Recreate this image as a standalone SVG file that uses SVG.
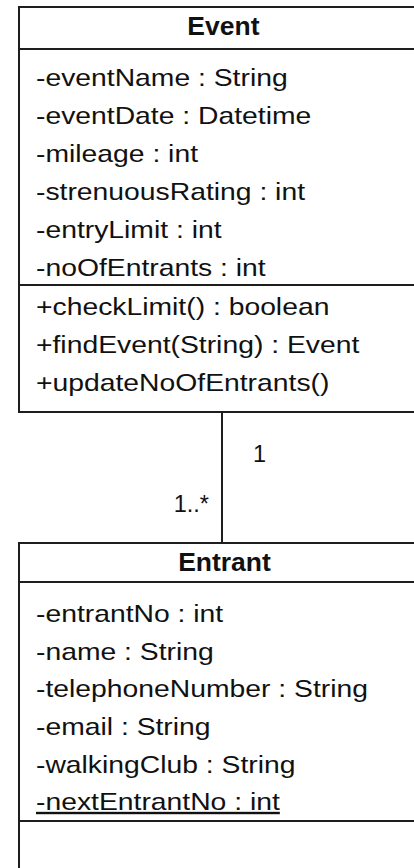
<svg xmlns="http://www.w3.org/2000/svg" width="414" height="868" viewBox="0 0 414 868">
  <style>
    .box { fill: #ffffff; stroke: #1e1e1e; stroke-width: 2; }
    .sep { stroke: #1e1e1e; stroke-width: 2; fill: none; }
    .title { font-family: "Liberation Sans", Arial, sans-serif; font-size: 25px; font-weight: bold; fill: #111; text-anchor: middle; }
    .member { font-family: "Liberation Sans", Arial, sans-serif; font-size: 24px; fill: #111; }
    .mult { font-family: "Liberation Sans", Arial, sans-serif; font-size: 23.5px; fill: #111; }
  </style>
  <rect x="0" y="0" width="414" height="868" fill="#ffffff"/>

  <g id="connectors">
    <line class="sep" x1="222" y1="412" x2="222" y2="543"/>
    <text class="mult" x="253" y="462">1</text>
    <text class="mult" x="209" y="512" text-anchor="end">1..*</text>
  </g>

  <g id="event">
    <rect class="box" x="19" y="7" width="420" height="405"/>
    <line class="sep" x1="19" y1="49" x2="439" y2="49"/>
    <line class="sep" x1="19" y1="285" x2="439" y2="285"/>
    <text class="title" x="210.8" y="35" transform="scale(1.06,1)">Event</text>
    <g transform="scale(1.18,1)">
      <text class="member" x="30.5" y="86">-eventName : String</text>
      <text class="member" x="30.5" y="124">-eventDate : Datetime</text>
      <text class="member" x="30.5" y="162">-mileage : int</text>
      <text class="member" x="30.5" y="200">-strenuousRating : int</text>
      <text class="member" x="30.5" y="238">-entryLimit : int</text>
      <text class="member" x="30.5" y="276">-noOfEntrants : int</text>
      <text class="member" x="30.5" y="315">+checkLimit() : boolean</text>
      <text class="member" x="30.5" y="353">+findEvent(String) : Event</text>
      <text class="member" x="30.5" y="391">+updateNoOfEntrants()</text>
    </g>
  </g>

  <g id="entrant">
    <rect class="box" x="19" y="543" width="420" height="340"/>
    <line class="sep" x1="19" y1="582" x2="439" y2="582"/>
    <line class="sep" x1="19" y1="821" x2="439" y2="821"/>
    <text class="title" x="211.8" y="571" transform="scale(1.06,1)">Entrant</text>
    <g transform="scale(1.18,1)">
      <text class="member" x="30.5" y="622">-entrantNo : int</text>
      <text class="member" x="30.5" y="660">-name : String</text>
      <text class="member" x="30.5" y="697">-telephoneNumber : String</text>
      <text class="member" x="30.5" y="735">-email : String</text>
      <text class="member" x="30.5" y="773">-walkingClub : String</text>
      <text class="member" x="30.5" y="810" text-decoration="underline">-nextEntrantNo : int</text>
    </g>
  </g>
</svg>
